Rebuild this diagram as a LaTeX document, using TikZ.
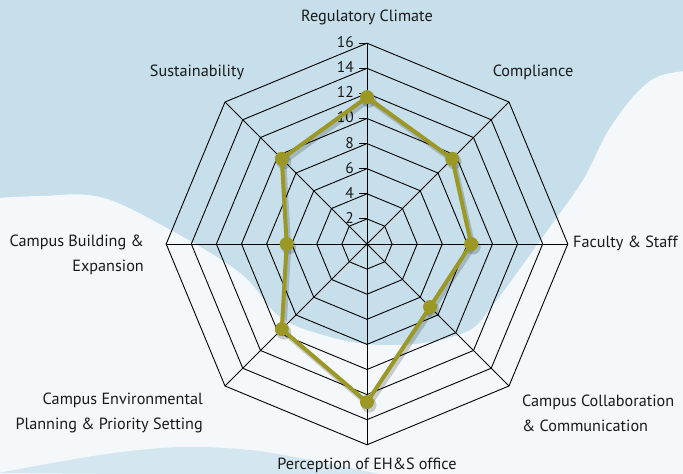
\documentclass[tikz,border=0pt]{standalone}
\usepackage{fontspec}
\setmainfont{PT Sans}
\begin{document}
\begin{tikzpicture}[x=1pt,y=1pt,
  gridline/.style={black, line width=0.9pt},
  datline/.style={draw=olivec, line width=4pt, line join=round},
  shadowline/.style={draw=black, opacity=0.18, line width=5pt, line join=round},
  dot/.style={fill=olivec},
  lab/.style={font=\fontsize{16.2}{25}\selectfont, text=textc, inner sep=0pt},
  ticklab/.style={font=\fontsize{15.5}{16}\selectfont, text=textc, inner sep=0pt, anchor=east}]
\definecolor{bgblue}{RGB}{198,223,235}
\definecolor{bgwhite}{RGB}{244,248,251}
\definecolor{bumpblue}{RGB}{212,231,240}
\definecolor{olivec}{RGB}{156,152,38}
\definecolor{textc}{RGB}{25,25,25}
\useasboundingbox (0,0) rectangle (683,474);
\fill[bgblue] (0,0) rectangle (683,474);
\fill[bgwhite] plot[smooth, tension=0.6] coordinates {(-2,276) (40,278) (100,277) (165,247) (240,201) (280,157) (330,137) (380,129) (430,132) (470,144) (490,165) (517,201) (550,247) (583,294) (607,341) (633,377) (657,397) (686,403)} -- (686,-2) -- (-2,-2) -- cycle;
\fill[bumpblue] plot[smooth, tension=0.6] coordinates {(-2,1) (100,19) (180,27) (250,24) (300,16) (340,8) (390,-2)} -- cycle;
\begin{scope}[shift={(367,230)}]
  \coordinate (c) at (0,0);
  \foreach \k in {1,...,8}{
    \draw[gridline] (0:{\k*25.1}) \foreach \a in {45,90,...,315}{ -- (\a:{\k*25.1})} -- cycle;
  }
  \foreach \a in {0,45,...,315}{ \draw[gridline] (c) -- (\a:200.8); }
  \foreach \v in {2,4,...,16}{
    \draw[gridline] (-8,{\v*12.55}) -- (0,{\v*12.55});
    \node[ticklab] (t\v) at (-13,{\v*12.55+1}) {\v};
  }
  \coordinate (p1) at (90:{11.7*12.55});
  \coordinate (p2) at (45:{9.6*12.55});
  \coordinate (p3) at (0:{8.3*12.55});
  \coordinate (p4) at (-45:{7.1*12.55});
  \coordinate (p5) at (-90:{12.6*12.55});
  \coordinate (p6) at (-135:{9.6*12.55});
  \coordinate (p7) at (180:{6.4*12.55});
  \coordinate (p8) at (135:{9.6*12.55});
  \draw[shadowline] ([shift={(2,-3)}]p1) -- ([shift={(2,-3)}]p2) -- ([shift={(2,-3)}]p3) -- ([shift={(2,-3)}]p4) -- ([shift={(2,-3)}]p5) -- ([shift={(2,-3)}]p6) -- ([shift={(2,-3)}]p7) -- ([shift={(2,-3)}]p8) -- cycle;
  \foreach \i in {1,...,8}{ \fill[black, opacity=0.18] ([shift={(2,-3)}]p\i) circle (7.5); }
  \draw[datline] (p1) -- (p2) -- (p3) -- (p4) -- (p5) -- (p6) -- (p7) -- (p8) -- cycle;
  \foreach \i in {1,...,8}{ \fill[dot] (p\i) circle (7); }
\end{scope}
\node[lab] (reg) at (367,457) {Regulatory Climate};
\node[lab] (comp) at (533,402) {Compliance};
\node[lab, anchor=west] (fac) at (573,231) {Faculty \& Staff};
\node[lab, anchor=west, align=left] (coll) at (522,61) {Campus Collaboration\\\& Communication};
\node[lab] (perc) at (367,9) {Perception of EH\&S office};
\node[lab, anchor=east, align=right] (env) at (203,61) {Campus Environmental\\Planning \& Priority Setting};
\node[lab, anchor=east, align=right] (bld) at (144,219) {Campus Building \&\\Expansion};
\node[lab] (sust) at (197,402) {Sustainability};
\end{tikzpicture}
\end{document}
